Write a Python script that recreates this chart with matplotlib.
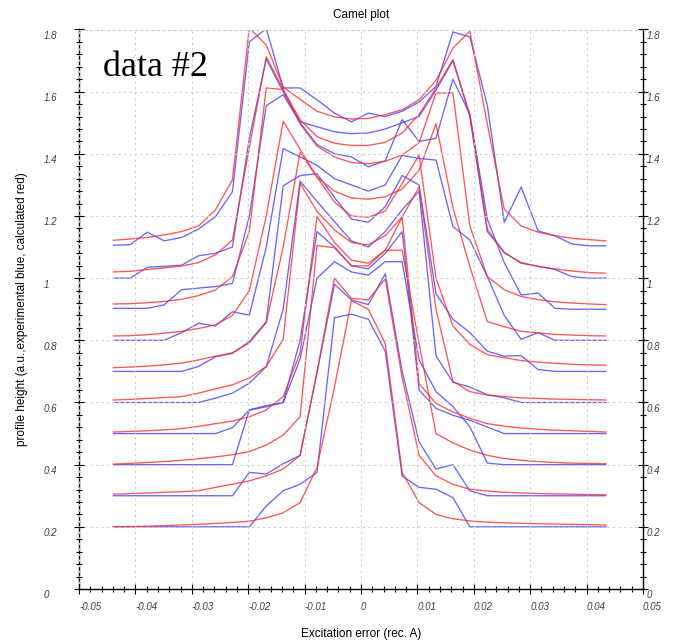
import matplotlib
matplotlib.use("Agg")
import matplotlib.pyplot as plt
import matplotlib.transforms as mtransforms
from matplotlib.ticker import MultipleLocator, FuncFormatter

# excitation error grid (rec. A)
x = [-0.0439, -0.0409, -0.0379, -0.0349, -0.0318, -0.0288, -0.0258, -0.0228,
     -0.0198, -0.0168, -0.0138, -0.0108, -0.0078, -0.0047, -0.0017, 0.0013,
     0.0043, 0.0073, 0.0103, 0.0133, 0.0163, 0.0193, 0.0224, 0.0254,
     0.0284, 0.0314, 0.0344, 0.0374, 0.0404, 0.0434]

# calculated (red) profiles, one per thickness, offset by 0.1
calc_11 = [1.122, 1.126, 1.131, 1.139, 1.150, 1.168, 1.220, 1.316, 1.805, 1.750, 1.615, 1.575, 1.537, 1.519, 1.512,
           1.514, 1.526, 1.542, 1.574, 1.636, 1.740, 1.795, 1.495, 1.222, 1.168, 1.148, 1.137, 1.128, 1.124, 1.120]
calc_10 = [1.020, 1.022, 1.028, 1.033, 1.039, 1.050, 1.075, 1.123, 1.420, 1.712, 1.607, 1.510, 1.455, 1.434, 1.427,
           1.427, 1.437, 1.467, 1.527, 1.612, 1.703, 1.527, 1.157, 1.082, 1.050, 1.038, 1.030, 1.023, 1.018, 1.016]
calc_09 = [0.917, 0.918, 0.921, 0.925, 0.932, 0.944, 0.962, 1.005, 1.150, 1.612, 1.607, 1.497, 1.425, 1.390, 1.372,
           1.368, 1.376, 1.396, 1.436, 1.596, 1.596, 1.168, 1.005, 0.963, 0.941, 0.931, 0.924, 0.920, 0.917, 0.915]
calc_08 = [0.814, 0.815, 0.818, 0.823, 0.829, 0.838, 0.850, 0.880, 0.960, 1.200, 1.505, 1.415, 1.325, 1.280, 1.258,
           1.254, 1.262, 1.287, 1.347, 1.497, 1.227, 1.037, 0.860, 0.844, 0.829, 0.824, 0.819, 0.817, 0.815, 0.814]
calc_07 = [0.712, 0.714, 0.717, 0.721, 0.727, 0.737, 0.749, 0.760, 0.792, 0.857, 1.100, 1.405, 1.325, 1.245, 1.200,
           1.196, 1.216, 1.305, 1.396, 1.000, 0.846, 0.787, 0.754, 0.744, 0.735, 0.730, 0.726, 0.723, 0.721, 0.720]
calc_06 = [0.608, 0.610, 0.613, 0.616, 0.619, 0.630, 0.644, 0.657, 0.679, 0.716, 0.803, 1.305, 1.215, 1.155, 1.115,
           1.107, 1.137, 1.197, 1.293, 0.900, 0.668, 0.635, 0.624, 0.619, 0.615, 0.613, 0.611, 0.610, 0.609, 0.608]
calc_05 = [0.505, 0.507, 0.509, 0.512, 0.516, 0.523, 0.532, 0.540, 0.554, 0.576, 0.619, 0.760, 1.198, 1.115, 1.058,
           1.048, 1.090, 1.196, 0.660, 0.597, 0.570, 0.549, 0.532, 0.524, 0.518, 0.514, 0.511, 0.509, 0.507, 0.505]
calc_04 = [0.402, 0.404, 0.407, 0.410, 0.414, 0.419, 0.425, 0.432, 0.442, 0.463, 0.495, 0.554, 1.105, 1.098, 1.040,
           1.040, 1.090, 1.090, 0.790, 0.500, 0.470, 0.447, 0.430, 0.420, 0.414, 0.410, 0.407, 0.405, 0.404, 0.403]
calc_03 = [0.305, 0.307, 0.309, 0.311, 0.313, 0.316, 0.327, 0.337, 0.348, 0.364, 0.386, 0.430, 0.697, 1.000, 0.935,
           0.930, 0.998, 0.680, 0.430, 0.364, 0.337, 0.321, 0.315, 0.311, 0.309, 0.307, 0.306, 0.305, 0.304, 0.303]
calc_02 = [0.200, 0.201, 0.202, 0.204, 0.206, 0.208, 0.211, 0.214, 0.218, 0.229, 0.245, 0.278, 0.391, 0.650, 0.928,
           0.900, 0.790, 0.375, 0.278, 0.240, 0.226, 0.219, 0.215, 0.213, 0.211, 0.210, 0.209, 0.208, 0.207, 0.206]

# experimental (blue) profiles
expt_11 = [1.106, 1.108, 1.148, 1.120, 1.131, 1.158, 1.198, 1.278, 1.760, 1.803, 1.612, 1.612, 1.574, 1.531, 1.503,
           1.531, 1.520, 1.537, 1.567, 1.617, 1.792, 1.776, 1.556, 1.180, 1.293, 1.152, 1.136, 1.110, 1.104, 1.104]
expt_10 = [1.000, 1.000, 1.035, 1.038, 1.042, 1.072, 1.080, 1.100, 1.450, 1.705, 1.600, 1.503, 1.487, 1.471, 1.465,
           1.467, 1.480, 1.500, 1.520, 1.605, 1.700, 1.520, 1.150, 1.083, 1.048, 1.038, 1.028, 1.005, 1.000, 1.000]
expt_09 = [0.903, 0.903, 0.903, 0.914, 0.963, 0.968, 0.973, 0.983, 1.200, 1.555, 1.590, 1.500, 1.430, 1.400, 1.390,
           1.358, 1.378, 1.510, 1.440, 1.450, 1.640, 1.527, 1.190, 1.050, 0.946, 0.952, 0.903, 0.900, 0.900, 0.900]
expt_08 = [0.800, 0.800, 0.800, 0.800, 0.825, 0.855, 0.846, 0.892, 0.881, 1.100, 1.417, 1.390, 1.363, 1.320, 1.300,
           1.280, 1.300, 1.395, 1.385, 1.380, 1.166, 1.123, 1.005, 0.880, 0.803, 0.825, 0.800, 0.800, 0.800, 0.800]
expt_07 = [0.700, 0.700, 0.700, 0.700, 0.700, 0.716, 0.747, 0.758, 0.796, 0.860, 1.297, 1.330, 1.336, 1.260, 1.190,
           1.180, 1.230, 1.330, 1.300, 0.950, 0.868, 0.825, 0.765, 0.749, 0.751, 0.706, 0.700, 0.700, 0.700, 0.700]
expt_06 = [0.600, 0.600, 0.600, 0.600, 0.600, 0.600, 0.614, 0.630, 0.662, 0.715, 0.900, 1.312, 1.247, 1.182, 1.120,
           1.100, 1.150, 1.220, 1.280, 0.750, 0.665, 0.650, 0.625, 0.615, 0.600, 0.600, 0.600, 0.600, 0.600, 0.600]
expt_05 = [0.500, 0.500, 0.500, 0.500, 0.500, 0.500, 0.500, 0.519, 0.576, 0.590, 0.600, 0.800, 1.150, 1.100, 1.040,
           1.030, 1.080, 1.150, 0.640, 0.581, 0.559, 0.543, 0.521, 0.500, 0.500, 0.500, 0.500, 0.500, 0.500, 0.500]
expt_04 = [0.400, 0.400, 0.400, 0.400, 0.400, 0.400, 0.400, 0.400, 0.576, 0.586, 0.600, 0.740, 1.000, 1.053, 1.020,
           1.010, 1.053, 1.053, 0.737, 0.635, 0.587, 0.522, 0.405, 0.400, 0.400, 0.400, 0.400, 0.400, 0.400, 0.400]
expt_03 = [0.300, 0.300, 0.300, 0.300, 0.300, 0.300, 0.300, 0.300, 0.375, 0.370, 0.403, 0.430, 0.697, 0.980, 0.930,
           0.915, 1.014, 0.700, 0.473, 0.386, 0.400, 0.316, 0.300, 0.300, 0.300, 0.300, 0.300, 0.300, 0.300, 0.300]
expt_02 = [0.200, 0.200, 0.200, 0.200, 0.200, 0.200, 0.200, 0.200, 0.200, 0.267, 0.316, 0.337, 0.375, 0.873, 0.884,
           0.868, 0.765, 0.364, 0.327, 0.321, 0.294, 0.200, 0.200, 0.200, 0.200, 0.200, 0.200, 0.200, 0.200, 0.200]

calc = [calc_11, calc_10, calc_09, calc_08, calc_07, calc_06, calc_05, calc_04, calc_03, calc_02]
expt = [expt_11, expt_10, expt_09, expt_08, expt_07, expt_06, expt_05, expt_04, expt_03, expt_02]

plt.rcParams['font.family'] = ['Liberation Sans', 'DejaVu Sans']

fig = plt.figure(figsize=(6.78, 6.43), dpi=100)
ax = fig.add_axes([79 / 678, 54 / 643, 564 / 678, 559.5 / 643])

for e in expt:
    ax.plot(x, e, color='#3c3cff', lw=0.95, alpha=0.78)
for c in calc:
    ax.plot(x, c, color='#ff2626', lw=0.95, alpha=0.78)

ax.set_xlim(-0.05, 0.05)
ax.set_ylim(0, 1.8)

ax.xaxis.set_major_locator(MultipleLocator(0.01))
ax.xaxis.set_minor_locator(MultipleLocator(0.002))
ax.yaxis.set_major_locator(MultipleLocator(0.2))
ax.yaxis.set_minor_locator(MultipleLocator(0.04))


def fmt(v, pos):
    s = f"{round(v, 4):g}"
    return "0" if s == "-0" else s


ax.xaxis.set_major_formatter(FuncFormatter(fmt))
ax.yaxis.set_major_formatter(FuncFormatter(fmt))

# grid drawn over the curves, like the original viewer
ax.grid(True, which='major', color='#cfcfcf', linestyle=(0, (2, 3)), lw=0.8)
ax.set_axisbelow(False)

for side in ['left', 'bottom', 'right']:
    ax.spines[side].set_color('black')
    ax.spines[side].set_linewidth(1.0)
ax.spines['top'].set_color('#cfcfcf')
ax.spines['top'].set_linestyle((0, (2, 3)))
ax.spines['top'].set_linewidth(0.8)

ax.tick_params(which='both', direction='inout', left=True, right=True, top=False, bottom=True,
               labelleft=True, labelright=True, colors='black', labelcolor='#404040', width=0.8)
ax.tick_params(which='major', length=6.5)
ax.tick_params(which='minor', length=5)
ax.tick_params(axis='x', which='major', pad=6, labelsize=7)
ax.tick_params(axis='y', which='major', pad=0, labelsize=7)

for lab in ax.get_xticklabels():
    lab.set_horizontalalignment('left')
    lab.set_fontstyle('italic')

shift_l = mtransforms.ScaledTranslation(-0.31, -0.055, fig.dpi_scale_trans)
shift_r = mtransforms.ScaledTranslation(-0.01, -0.055, fig.dpi_scale_trans)
for t in ax.yaxis.get_major_ticks():
    t.label1.set_horizontalalignment('left')
    t.label1.set_fontstyle('italic')
    t.label1.set_transform(t.label1.get_transform() + shift_l)
    t.label2.set_horizontalalignment('left')
    t.label2.set_fontstyle('italic')
    t.label2.set_transform(t.label2.get_transform() + shift_r)

ax.set_title('Camel plot', fontsize=8.5, pad=8)
ax.set_xlabel('Excitation error (rec. A)', fontsize=8.5)
ax.xaxis.set_label_coords(0.5, -0.07)
ax.set_ylabel('profile height (a.u.,experimental blue, calculated red)', fontsize=8.5)
ax.yaxis.set_label_coords(-0.09, 0.5)

fig.text(103 / 678, 1 - 76 / 643, 'data #2', family=['Liberation Serif', 'DejaVu Serif'],
         fontsize=26, va='baseline', ha='left')

fig.savefig('out.png', dpi=100)
